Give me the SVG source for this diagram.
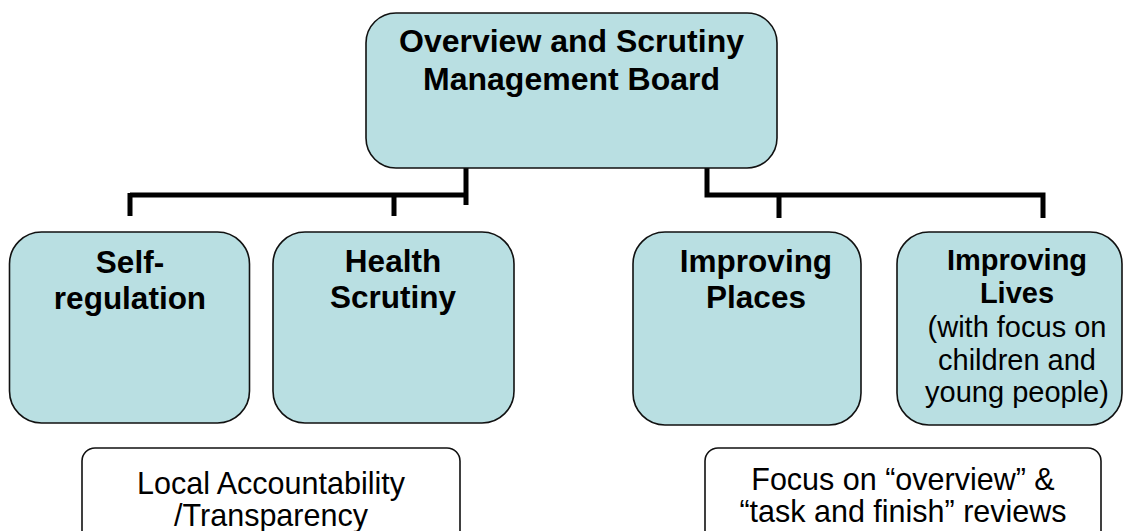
<svg xmlns="http://www.w3.org/2000/svg" width="1128" height="531" viewBox="0 0 1128 531">
  <style>
    .box { fill: #b9dfe2; stroke: #111; stroke-width: 1.6; }
    .note { fill: #fff; stroke: #111; stroke-width: 1.6; }
    .bold { font-family: "Liberation Sans", Arial, sans-serif; font-weight: bold; fill: #000; text-anchor: middle; }
    .reg { font-family: "Liberation Sans", Arial, sans-serif; fill: #000; text-anchor: middle; }
    .wire { fill: none; stroke: #000; stroke-width: 5; stroke-linecap: butt; stroke-linejoin: miter; }
  </style>
  <rect width="1128" height="531" fill="#fff"/>

  <!-- connectors -->
  <g id="connectors">
    <path class="wire" d="M466,168 V205 M468,195 H130 M130,193 V216 M394,195 V216"/>
    <path class="wire" d="M707,168 V195 H1043 V218 M779,195 V218"/>
  </g>

  <!-- top board -->
  <g id="board">
    <rect class="box" x="366" y="13" width="411" height="155" rx="30" ry="30"/>
    <text class="bold" font-size="32" x="571.5" y="52">Overview and Scrutiny</text>
    <text class="bold" font-size="32" x="571.5" y="90">Management Board</text>
  </g>

  <g id="self-regulation">
    <rect class="box" x="9.5" y="232" width="240" height="191" rx="32" ry="32"/>
    <text class="bold" font-size="31.5" x="130" y="273">Self-</text>
    <text class="bold" font-size="31.5" x="130" y="309">regulation</text>
  </g>

  <g id="health-scrutiny">
    <rect class="box" x="273" y="232" width="241" height="191" rx="32" ry="32"/>
    <text class="bold" font-size="31.5" x="393" y="272">Health</text>
    <text class="bold" font-size="31.5" x="393" y="308">Scrutiny</text>
  </g>

  <g id="improving-places">
    <rect class="box" x="633" y="232" width="228" height="193" rx="32" ry="32"/>
    <text class="bold" font-size="31.5" x="756" y="272">Improving</text>
    <text class="bold" font-size="31.5" x="756" y="308">Places</text>
  </g>

  <g id="improving-lives">
    <rect class="box" x="897" y="232" width="225" height="193" rx="32" ry="32"/>
    <text class="bold" font-size="29" x="1017" y="270">Improving</text>
    <text class="bold" font-size="29" x="1017" y="303">Lives</text>
    <text class="reg" font-size="29" x="1017" y="337">(with focus on</text>
    <text class="reg" font-size="29" x="1017" y="370">children and</text>
    <text class="reg" font-size="29" x="1017" y="402">young people)</text>
  </g>

  <g id="local-accountability">
    <rect class="note" x="82" y="448" width="378" height="100" rx="13" ry="13"/>
    <text class="reg" font-size="30.5" x="271" y="494">Local Accountability</text>
    <text class="reg" font-size="30.5" x="271" y="526">/Transparency</text>
  </g>

  <g id="focus-reviews">
    <rect class="note" x="705" y="448" width="396" height="100" rx="13" ry="13"/>
    <text class="reg" font-size="30.5" x="903" y="490">Focus on “overview” &amp;</text>
    <text class="reg" font-size="30.5" x="903" y="522">“task and finish” reviews</text>
  </g>
</svg>
